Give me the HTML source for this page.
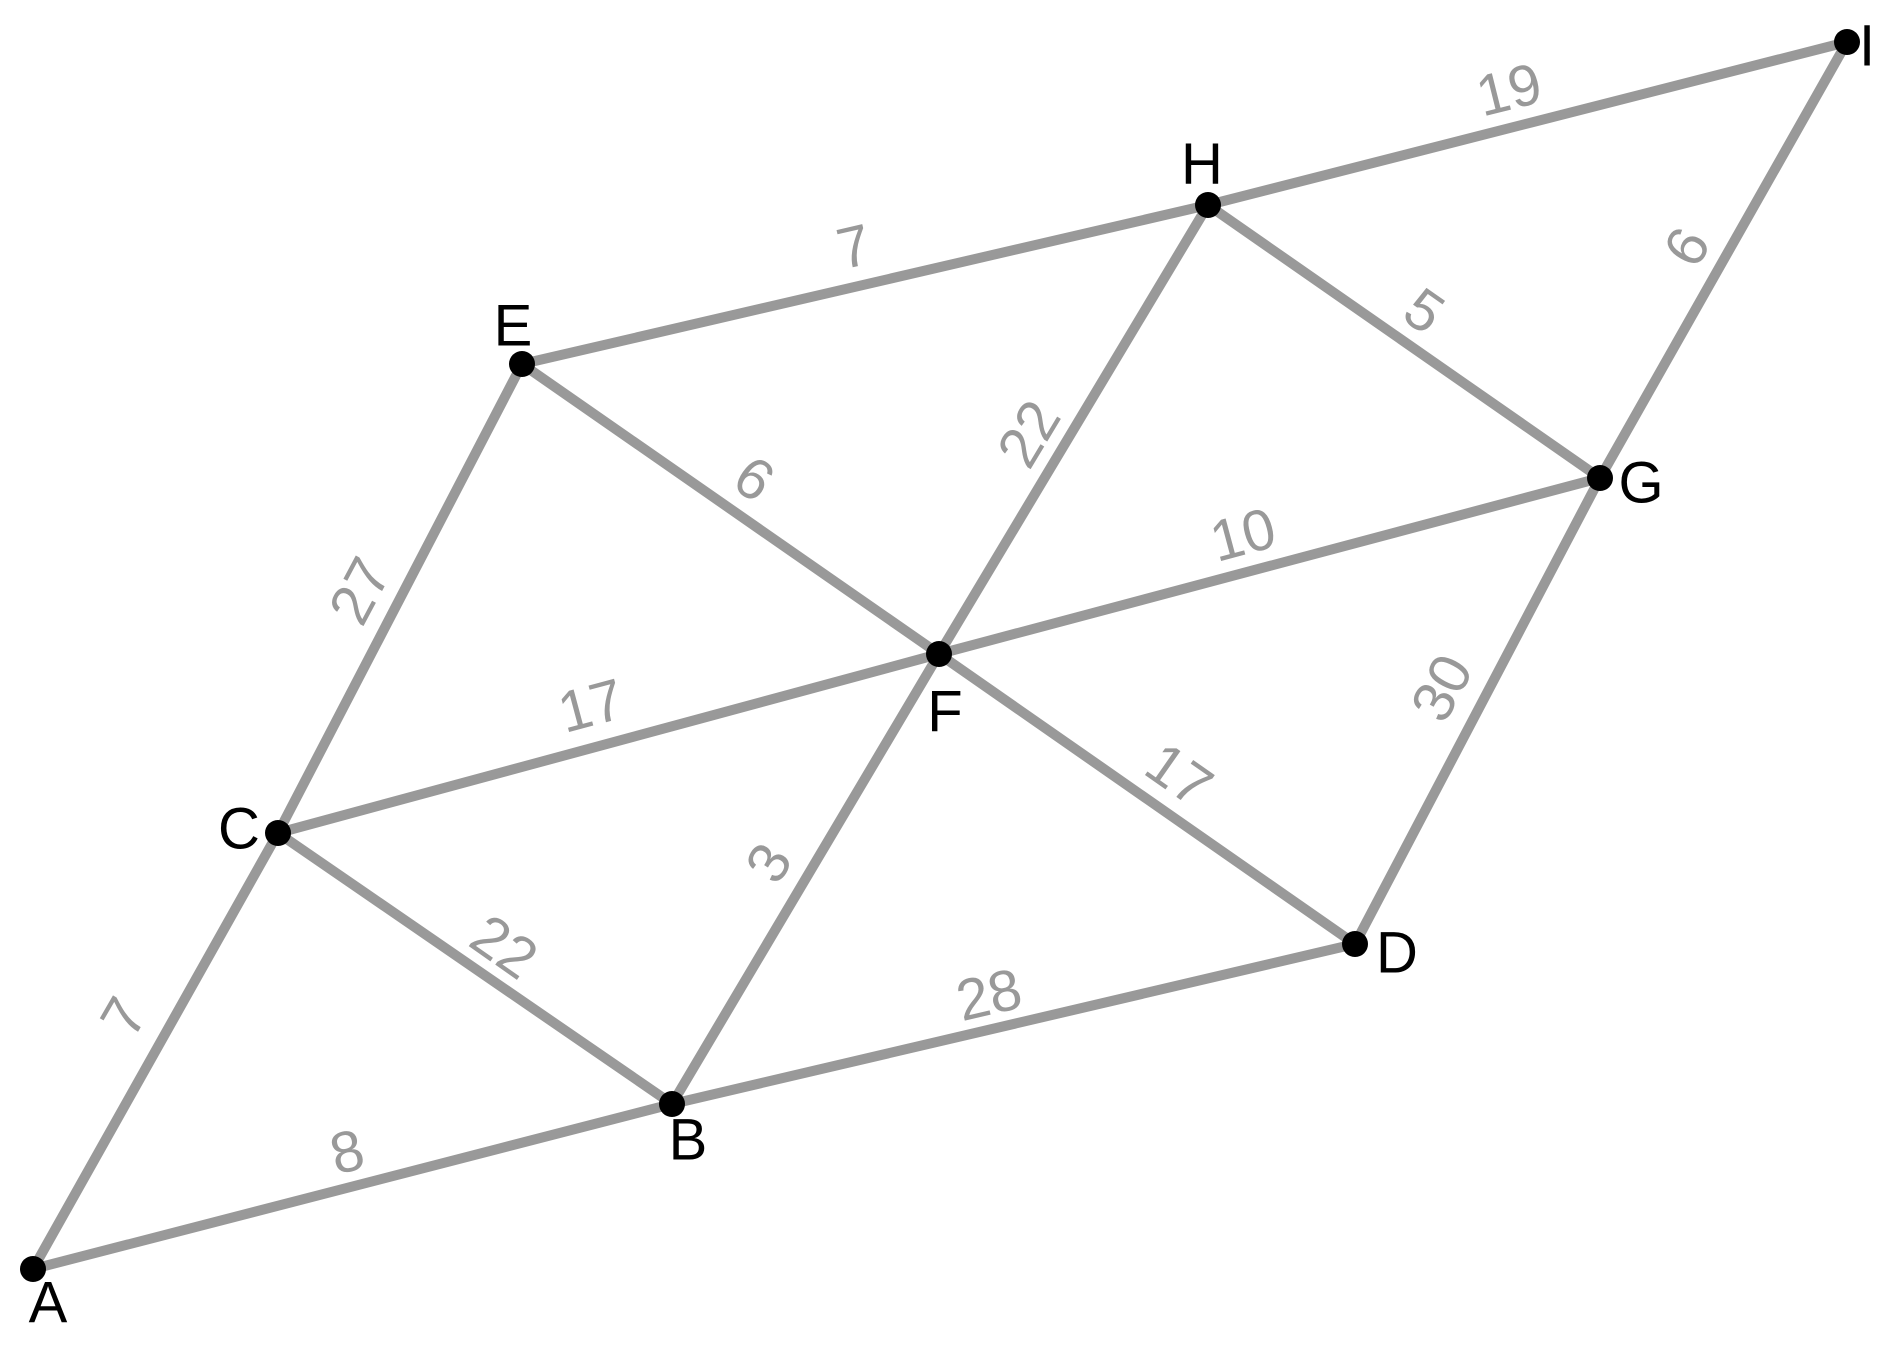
<!DOCTYPE html>
<html><head><meta charset="utf-8"><style>html,body{margin:0;padding:0;background:#fff}svg{display:block}</style></head>
<body>
<svg width="1892" height="1347" viewBox="0 0 1892 1347" xmlns="http://www.w3.org/2000/svg">
<g stroke="#999" stroke-width="10" stroke-linecap="round">
<line x1="33" y1="1269" x2="278" y2="833"/>
<line x1="33" y1="1269" x2="672" y2="1104"/>
<line x1="278" y1="833" x2="522" y2="364"/>
<line x1="278" y1="833" x2="939" y2="654"/>
<line x1="278" y1="833" x2="672" y2="1104"/>
<line x1="522" y1="364" x2="1208" y2="205"/>
<line x1="522" y1="364" x2="939" y2="654"/>
<line x1="672" y1="1104" x2="939" y2="654"/>
<line x1="672" y1="1104" x2="1355" y2="944"/>
<line x1="939" y1="654" x2="1355" y2="944"/>
<line x1="939" y1="654" x2="1600" y2="478"/>
<line x1="939" y1="654" x2="1208" y2="205"/>
<line x1="1208" y1="205" x2="1847" y2="42"/>
<line x1="1208" y1="205" x2="1600" y2="478"/>
<line x1="1600" y1="478" x2="1847" y2="42"/>
<line x1="1600" y1="478" x2="1355" y2="944"/>
</g>
<g fill="#000">
<circle cx="33" cy="1269" r="13"/><circle cx="672" cy="1104" r="13"/><circle cx="278" cy="833" r="13"/>
<circle cx="1355" cy="944" r="13"/><circle cx="522" cy="364" r="13"/><circle cx="939" cy="654" r="13"/>
<circle cx="1600" cy="478" r="13"/><circle cx="1208" cy="205" r="13"/><circle cx="1847" cy="42" r="13"/>
</g>
<g font-family="Liberation Sans, sans-serif" font-size="58" fill="#000" text-anchor="middle" dominant-baseline="central">
<text x="48" y="1303">A</text><text x="688" y="1140">B</text><text x="239" y="829">C</text>
<text x="1397" y="953">D</text><text x="513" y="326">E</text><text x="945" y="712">F</text>
<text x="1641" y="483">G</text><text x="1202" y="164">H</text><text x="1867" y="46">I</text>
</g>
<g font-family="Liberation Sans, sans-serif" font-size="58" fill="#999" text-anchor="middle" dominant-baseline="central">
<text transform="translate(124,1017) rotate(-60)">7</text>
<text transform="translate(347,1152) rotate(-14)">8</text>
<text transform="translate(360,591) rotate(-62)">27</text>
<text transform="translate(591,706) rotate(-15)">17</text>
<text transform="translate(504,947) rotate(35)">22</text>
<text transform="translate(854,247) rotate(-13)">7</text>
<text transform="translate(754,479) rotate(35)">6</text>
<text transform="translate(769,863) rotate(-59)">3</text>
<text transform="translate(989,995) rotate(-13)">28</text>
<text transform="translate(1179,775) rotate(35)">17</text>
<text transform="translate(1029,434) rotate(-59)">22</text>
<text transform="translate(1243,535) rotate(-15)">10</text>
<text transform="translate(1509,90) rotate(-14)">19</text>
<text transform="translate(1424,311) rotate(35)">5</text>
<text transform="translate(1687,247) rotate(-60)">6</text>
<text transform="translate(1442,688) rotate(-62)">30</text>
</g>
</svg>
</body></html>
